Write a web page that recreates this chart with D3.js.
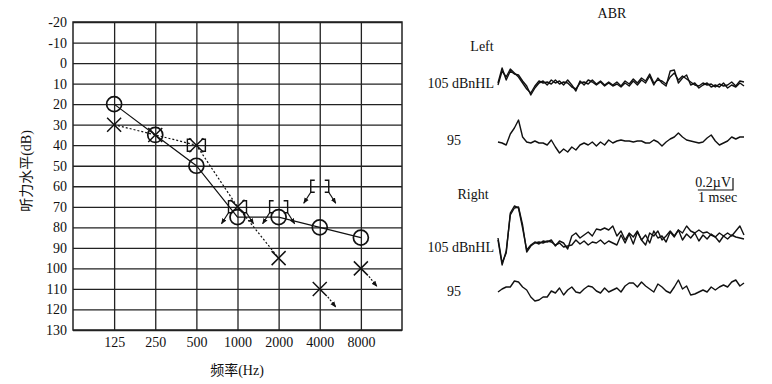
<!DOCTYPE html>
<html><head><meta charset="utf-8">
<script src="https://cdn.jsdelivr.net/npm/d3@7"></script>
<style>body{margin:0;background:#fff} svg{display:block} text{font-family:"Liberation Serif","Noto Sans CJK SC",serif;fill:#111}</style>
</head><body><svg id="c" width="772" height="384"></svg>
<script>
// ---------- Audiogram data ----------
const freqs = [125, 250, 500, 1000, 2000, 4000, 8000];
const freqLabels = ["125", "250", "500", "1000", "2000", "4000", "8000"];
const dbTicks = [-20,-10,0,10,20,30,40,50,60,70,80,90,100,110,120,130];
const rightAC = [20, 35, 50, 75, 75, 80, 85];            // O, solid
const leftACFreqs = [125, 250, 500, 1000, 2000];
const leftAC = [30, 35, 40, 70, 95];                      // X, dotted
const leftNRFreqs = [4000, 8000];
const leftNR = [110, 100];                                // X with no-response arrow
const boneFreqs = [500, 1000, 2000, 4000];
const boneLevels = [40, 70, 70, 60];                      // [ ] masked bone
const boneNoResp = [false, true, true, true];

// ---------- ABR data (amplitude units; 12 units = 0.2 µV) ----------
const abrDuration = 7;   // ms
const abrScaleUV = 0.2, abrScaleUnits = 12, abrScaleMs = 1;
const L105a = [0,15,3,12,9,8,2,-3,-12,-5,0,2,-2,3,0,2,-2,3,-2,-8,2,-2,3,1,-2,1,-3,0,-3,-1,-4,0,-3,2,-2,3,0,7,-2,5,0,-3,12,13,0,5,8,-2,0,-5,-2,0,-4,-2,-4,0,-5,-2,-4,0,-3];
const L105b = [-2,12,6,14,10,6,0,-6,-10,-3,2,0,1,-1,3,-1,1,0,-4,-6,0,1,-1,3,-1,2,-2,1,-2,1,-3,2,-1,4,0,5,2,9,0,3,2,-1,6,10,3,7,4,1,-2,-3,0,-2,-1,-4,-1,-3,-2,1,-3,2,1];
const L95 = [0,-1,-3,8,14,22,5,0,-1,1,-1,-1,-3,2,-5,-11,-7,-10,-5,-8,-3,-1,-3,0,-4,0,-3,2,-1,1,2,1,1,0,1,1,-1,-1,2,0,-4,0,3,5,9,5,2,1,0,-1,0,4,7,1,-3,-1,1,5,3,5,5];
const R105a = [5,-20,-10,30,37,35,15,-7,-2,1,-1,2,1,3,-3,2,0,-6,7,10,5,8,11,7,14,13,15,13,17,7,12,3,10,6,12,3,-2,10,7,12,3,7,12,7,13,10,17,12,10,13,10,11,8,6,10,7,10,7,12,17,8];
const R105b = [3,-22,-8,28,35,36,18,-9,-3,0,1,0,2,1,-2,0,-4,-3,-2,3,-1,2,-2,1,0,3,-1,2,0,-2,8,0,9,-1,11,3,8,0,12,5,7,1,11,6,13,3,9,5,10,2,8,4,9,6,1,7,4,8,6,5,4];
const R95 = [-2,1,3,3,9,8,3,0,-7,-11,-10,-7,-7,-1,-3,2,-5,0,3,-2,-3,1,4,3,-1,-3,2,-2,0,2,-2,4,7,7,3,8,4,1,-2,6,3,-1,-3,3,10,1,4,-5,-4,-2,0,-2,3,0,3,5,3,8,10,4,7];

const svg = d3.select("#c");
const ink = "#111";

// arrow marker
const defs = svg.append("defs");
defs.append("marker").attr("id","ah").attr("viewBox","0 0 10 10").attr("refX",9).attr("refY",5)
  .attr("markerWidth",6).attr("markerHeight",6).attr("markerUnits","userSpaceOnUse").attr("orient","auto")
  .append("path").attr("d","M0,1 L10,5 L0,9 Z").attr("fill",ink);

// ---------- Audiogram ----------
const X0 = 73, X1 = 402, Y0 = 22, Y1 = 330;
const x = d3.scaleLog().base(2).domain([62.5, 16000]).range([X0, X1]);
const y = d3.scaleLinear().domain([-20, 130]).range([Y0, Y1]);

const gy = svg.append("g").attr("transform",`translate(${X0},0)`)
  .call(d3.axisLeft(y).tickValues(dbTicks).tickSize(-(X1-X0)).tickPadding(6).tickFormat(d=>String(d)));
const gx = svg.append("g").attr("transform",`translate(0,${Y1})`)
  .call(d3.axisBottom(x).tickValues(freqs).tickSize(-(Y1-Y0)).tickPadding(7).tickFormat((d,i)=>freqLabels[i]));
[gy,gx].forEach(g=>{
  g.select(".domain").remove();
  g.selectAll(".tick line").attr("stroke","#222").attr("stroke-width",1.3);
  g.selectAll(".tick text").attr("font-size",14).attr("font-family","Liberation Serif").attr("fill",ink);
});
svg.append("rect").attr("x",X0).attr("y",Y0).attr("width",X1-X0).attr("height",Y1-Y0)
  .attr("fill","none").attr("stroke","#222").attr("stroke-width",1.5);

svg.append("text").attr("x",237).attr("y",375).attr("text-anchor","middle").attr("font-size",14).text("频率(Hz)");
svg.append("text").attr("transform","translate(31,171) rotate(-90)").attr("text-anchor","middle").attr("font-size",14).text("听力水平(dB)");

// left AC dotted line
svg.append("path").datum(leftACFreqs.map((f,i)=>[f,leftAC[i]]))
  .attr("d", d3.line().x(d=>x(d[0])).y(d=>y(d[1])))
  .attr("fill","none").attr("stroke",ink).attr("stroke-width",1.2).attr("stroke-dasharray","2,2");
// right AC solid line
svg.append("path").datum(freqs.map((f,i)=>[f,rightAC[i]]))
  .attr("d", d3.line().x(d=>x(d[0])).y(d=>y(d[1])))
  .attr("fill","none").attr("stroke",ink).attr("stroke-width",1.2);

// circles
svg.selectAll("circle.o").data(freqs.map((f,i)=>[f,rightAC[i]])).join("circle")
  .attr("cx",d=>x(d[0])).attr("cy",d=>y(d[1])).attr("r",7.5)
  .attr("fill","none").attr("stroke",ink).attr("stroke-width",1.7);

// X markers
function drawX(cx, cy){
  svg.append("path").attr("d",`M${cx-7},${cy-7}L${cx+7},${cy+7}M${cx+7},${cy-7}L${cx-7},${cy+7}`)
    .attr("stroke",ink).attr("stroke-width",1.5).attr("fill","none");
}
leftACFreqs.forEach((f,i)=>drawX(x(f), y(leftAC[i])));
leftNRFreqs.forEach((f,i)=>{
  const cx = x(f), cy = y(leftNR[i]);
  drawX(cx, cy);
  svg.append("line").attr("x1",cx+8).attr("y1",cy+8).attr("x2",cx+16).attr("y2",cy+18)
    .attr("stroke",ink).attr("stroke-width",1.2).attr("stroke-dasharray","2,1.5").attr("marker-end","url(#ah)");
});

// masked bone brackets
boneFreqs.forEach((f,i)=>{
  const cx = x(f), cy = y(boneLevels[i]);
  svg.append("path").attr("d",
    `M${cx-5},${cy-6}H${cx-9}V${cy+6}H${cx-5}M${cx+5},${cy-6}H${cx+9}V${cy+6}H${cx+5}`)
    .attr("fill","none").attr("stroke",ink).attr("stroke-width",1.4);
  if (boneNoResp[i]) {
    [-1,1].forEach(s=>{
      svg.append("line").attr("x1",cx+s*9).attr("y1",cy+6).attr("x2",cx+s*16).attr("y2",cy+17)
        .attr("stroke",ink).attr("stroke-width",1.2).attr("marker-end","url(#ah)");
    });
  }
});

// ---------- ABR ----------
const xt = d3.scaleLinear().domain([0, abrDuration]).range([498, 744]);
function trace(data, base){
  const yr = d3.scaleLinear().domain([0, 1]).range([base, base-1]);
  const dt = abrDuration/(data.length-1);
  svg.append("path").datum(data)
    .attr("d", d3.line().x((d,i)=>xt(i*dt)).y(d=>yr(d)))
    .attr("fill","none").attr("stroke",ink).attr("stroke-width",1.4).attr("stroke-linejoin","round");
}
trace(L105a, 83); trace(L105b, 83);
trace(L95, 142);
trace(R105a, 243); trace(R105b, 243);
trace(R95, 290);

const t = (txt, xx, yy, anchor="start", size=14) =>
  svg.append("text").attr("x",xx).attr("y",yy).attr("text-anchor",anchor).attr("font-size",size).text(txt);
t("ABR", 612, 18, "middle");
t("Left", 482, 51, "middle");
t("105 dBnHL", 494, 88, "end");
t("95", 454, 145, "middle");
t("Right", 473, 199, "middle");
t("105 dBnHL", 494, 252, "end");
t("95", 454, 296, "middle");

// scale bar
const barX = 733, barY = 190;
const barW = xt(abrScaleMs) - xt(0);
svg.append("path").attr("d",`M${barX-barW},${barY}H${barX}V${barY-abrScaleUnits}`)
  .attr("fill","none").attr("stroke",ink).attr("stroke-width",1.2);
t(abrScaleUV + "µV", 731, 187, "end");
t("1 msec", 698, 202, "start");
</script></body></html>
